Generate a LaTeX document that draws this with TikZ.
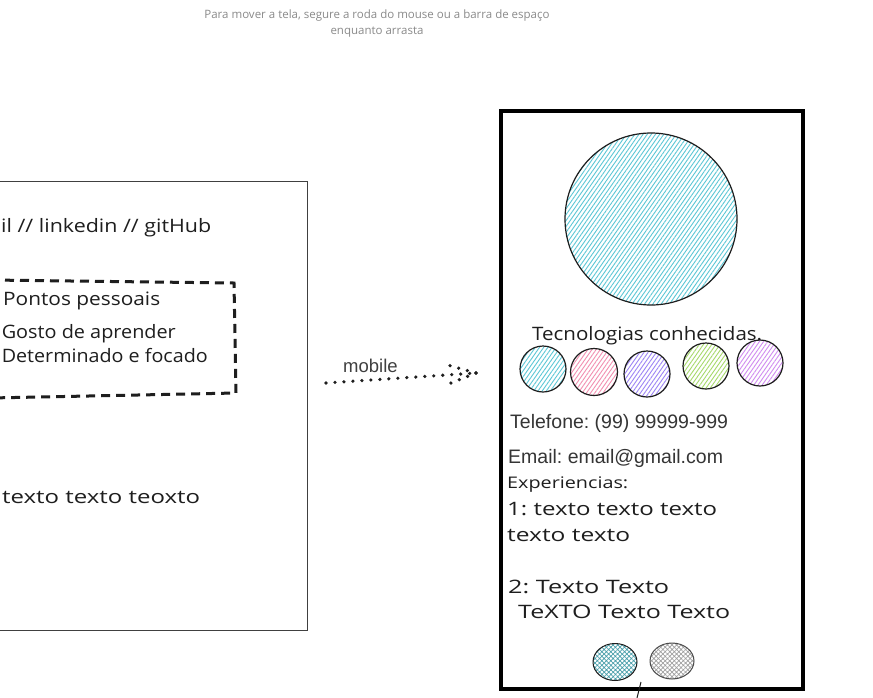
\documentclass[tikz,border=0pt]{standalone}
\usepackage{fontspec}
\setmainfont{Open Sans}
\newfontfamily\arialf{Liberation Sans}
\usetikzlibrary{patterns.meta,shapes.geometric}
\definecolor{hcyan}{HTML}{5CC7D6}
\definecolor{hpink}{HTML}{F28FB0}
\definecolor{hviolet}{HTML}{9C84F5}
\definecolor{hgreen}{HTML}{A6D96A}
\definecolor{hpurple}{HTML}{D08CF0}
\definecolor{hgray}{HTML}{A0A0A0}
\definecolor{hint}{HTML}{8A8A8A}
\definecolor{ink}{HTML}{1E1E1E}
\newcommand{\fitw}[2]{\resizebox{#1}{\height}{#2}}
\frenchspacing
\tikzset{
  hw/.style={inner sep=0pt, anchor=base west, text=ink, font=\fontsize{18.5}{22}\selectfont},
  ar/.style={inner sep=0pt, anchor=base west, text=ink!90, font=\arialf\fontsize{19.5}{22}\selectfont},
  bub/.style={draw=ink, line width=1.2pt},
  lin/.style={pattern={Lines[angle=55,distance=3.4pt,line width=0.9pt]}},
  xh/.style={pattern={Hatch[angle=45,distance=3.2pt,line width=0.7pt]}},
  dotline/.style={line width=3.6pt, line cap=round, dash pattern=on 0pt off 9pt, draw=ink}
}
\begin{document}
\begin{tikzpicture}[x=1pt,y=-1pt]
\useasboundingbox (0,0) rectangle (873,697);
\clip (0,0) rectangle (873,697);
\fill[white] (0,0) rectangle (873,697);

% hint text
\node[inner sep=0pt, anchor=base, text=hint, font=\fontsize{11.5}{14}\selectfont] (hint1) at (377,18) {Para mover a tela, segure a roda do mouse ou a barra de espaço};
\node[inner sep=0pt, anchor=base, text=hint, font=\fontsize{11.5}{14}\selectfont] (hint2) at (377,34) {enquanto arrasta};

% left desktop frame
\draw[draw=ink!85, line width=1pt] (-5,181) -- (307,181) -- (307,630) -- (-5,630);
\node[hw] (links) at (1,232) {\fitw{210pt}{il // linkedin // gitHub}};
% dashed box
\draw[draw=ink, line width=3pt, dash pattern=on 9pt off 6pt] (-10,280) -- (234,283) -- (236,393) -- (-10,398);
\node[hw] (pontos) at (3,305) {\fitw{157pt}{Pontos pessoais}};
\node[hw, anchor=base east] (gosto) at (176,338) {\fitw{174pt}{Gosto de aprender}};
\node[hw, anchor=base east] (determ) at (208,362) {\fitw{206pt}{Determinado e focado}};
\node[hw] (textoL) at (2,503) {\fitw{198pt}{texto texto teoxto}};

% mobile frame
\node[draw=black, line width=3.2pt, minimum width=302pt, minimum height=578pt, inner sep=0pt] (mob) at (652,400) {};

% arrow
\coordinate (arrS) at (326,383);
\coordinate (arrE) at (476,373);
\draw[dotline] (arrS) -- (arrE);
\draw[dotline] (arrE) -- ++(-32,-9);
\draw[dotline] (arrE) -- ++(-30,12);
\node[inner sep=0pt, anchor=base west, text=ink!85, font=\arialf\fontsize{18.5}{22}\selectfont] (mlabel) at (343,372) {mobile};

% avatar
\node[circle, bub, lin, pattern color=hcyan, minimum size=172pt, inner sep=0pt] (avatar) at (651,219) {};
\node[hw, anchor=base west] (tecs) at (532,340) {\fitw{230pt}{Tecnologias conhecidas.}};

% tech bubbles
\node[circle, bub, lin, pattern color=hcyan, minimum size=46pt, inner sep=0pt] (t1) at (543,369) {};
\node[circle, bub, lin, pattern color=hpink, minimum size=47pt, inner sep=0pt] (t2) at (594,372) {};
\node[circle, bub, lin, pattern color=hviolet, minimum size=46pt, inner sep=0pt] (t3) at (647,374) {};
\node[circle, bub, lin, pattern color=hgreen, minimum size=46pt, inner sep=0pt] (t4) at (706,366) {};
\node[circle, bub, lin, pattern color=hpurple, minimum size=46pt, inner sep=0pt] (t5) at (760,363) {};

% contact
\node[ar] (tel) at (510,428) {Telefone: (99) 99999-999};
\node[ar] (email) at (508,463) {Email: email@gmail.com};

% experiences
\node[hw, font=\fontsize{16}{20}\selectfont] (exp) at (507,488) {\fitw{121pt}{Experiencias:}};
\node[hw] (e1a) at (507,515) {\fitw{210pt}{1: texto texto texto}};
\node[hw] (e1b) at (507,541) {\fitw{123pt}{texto texto}};
\node[hw] (e2a) at (508,593) {\fitw{161pt}{2: Texto Texto}};
\node[hw] (e2b) at (518,618) {\fitw{212pt}{TeXTO Texto Texto}};

% bottom icons
\node[ellipse, draw=ink, line width=1pt, xh, pattern color=hcyan!80!black, minimum width=44pt, minimum height=37pt, inner sep=0pt] (ic1) at (615,662) {};
\node[ellipse, draw=ink!80, line width=1pt, xh, pattern color=hgray, minimum width=44pt, minimum height=36pt, inner sep=0pt] (ic2) at (672,661) {};
\coordinate (stA) at (641,682);
\coordinate (stB) at (637,698);
\draw[draw=ink, line width=1pt] (stA) -- (stB);
\end{tikzpicture}
\end{document}
